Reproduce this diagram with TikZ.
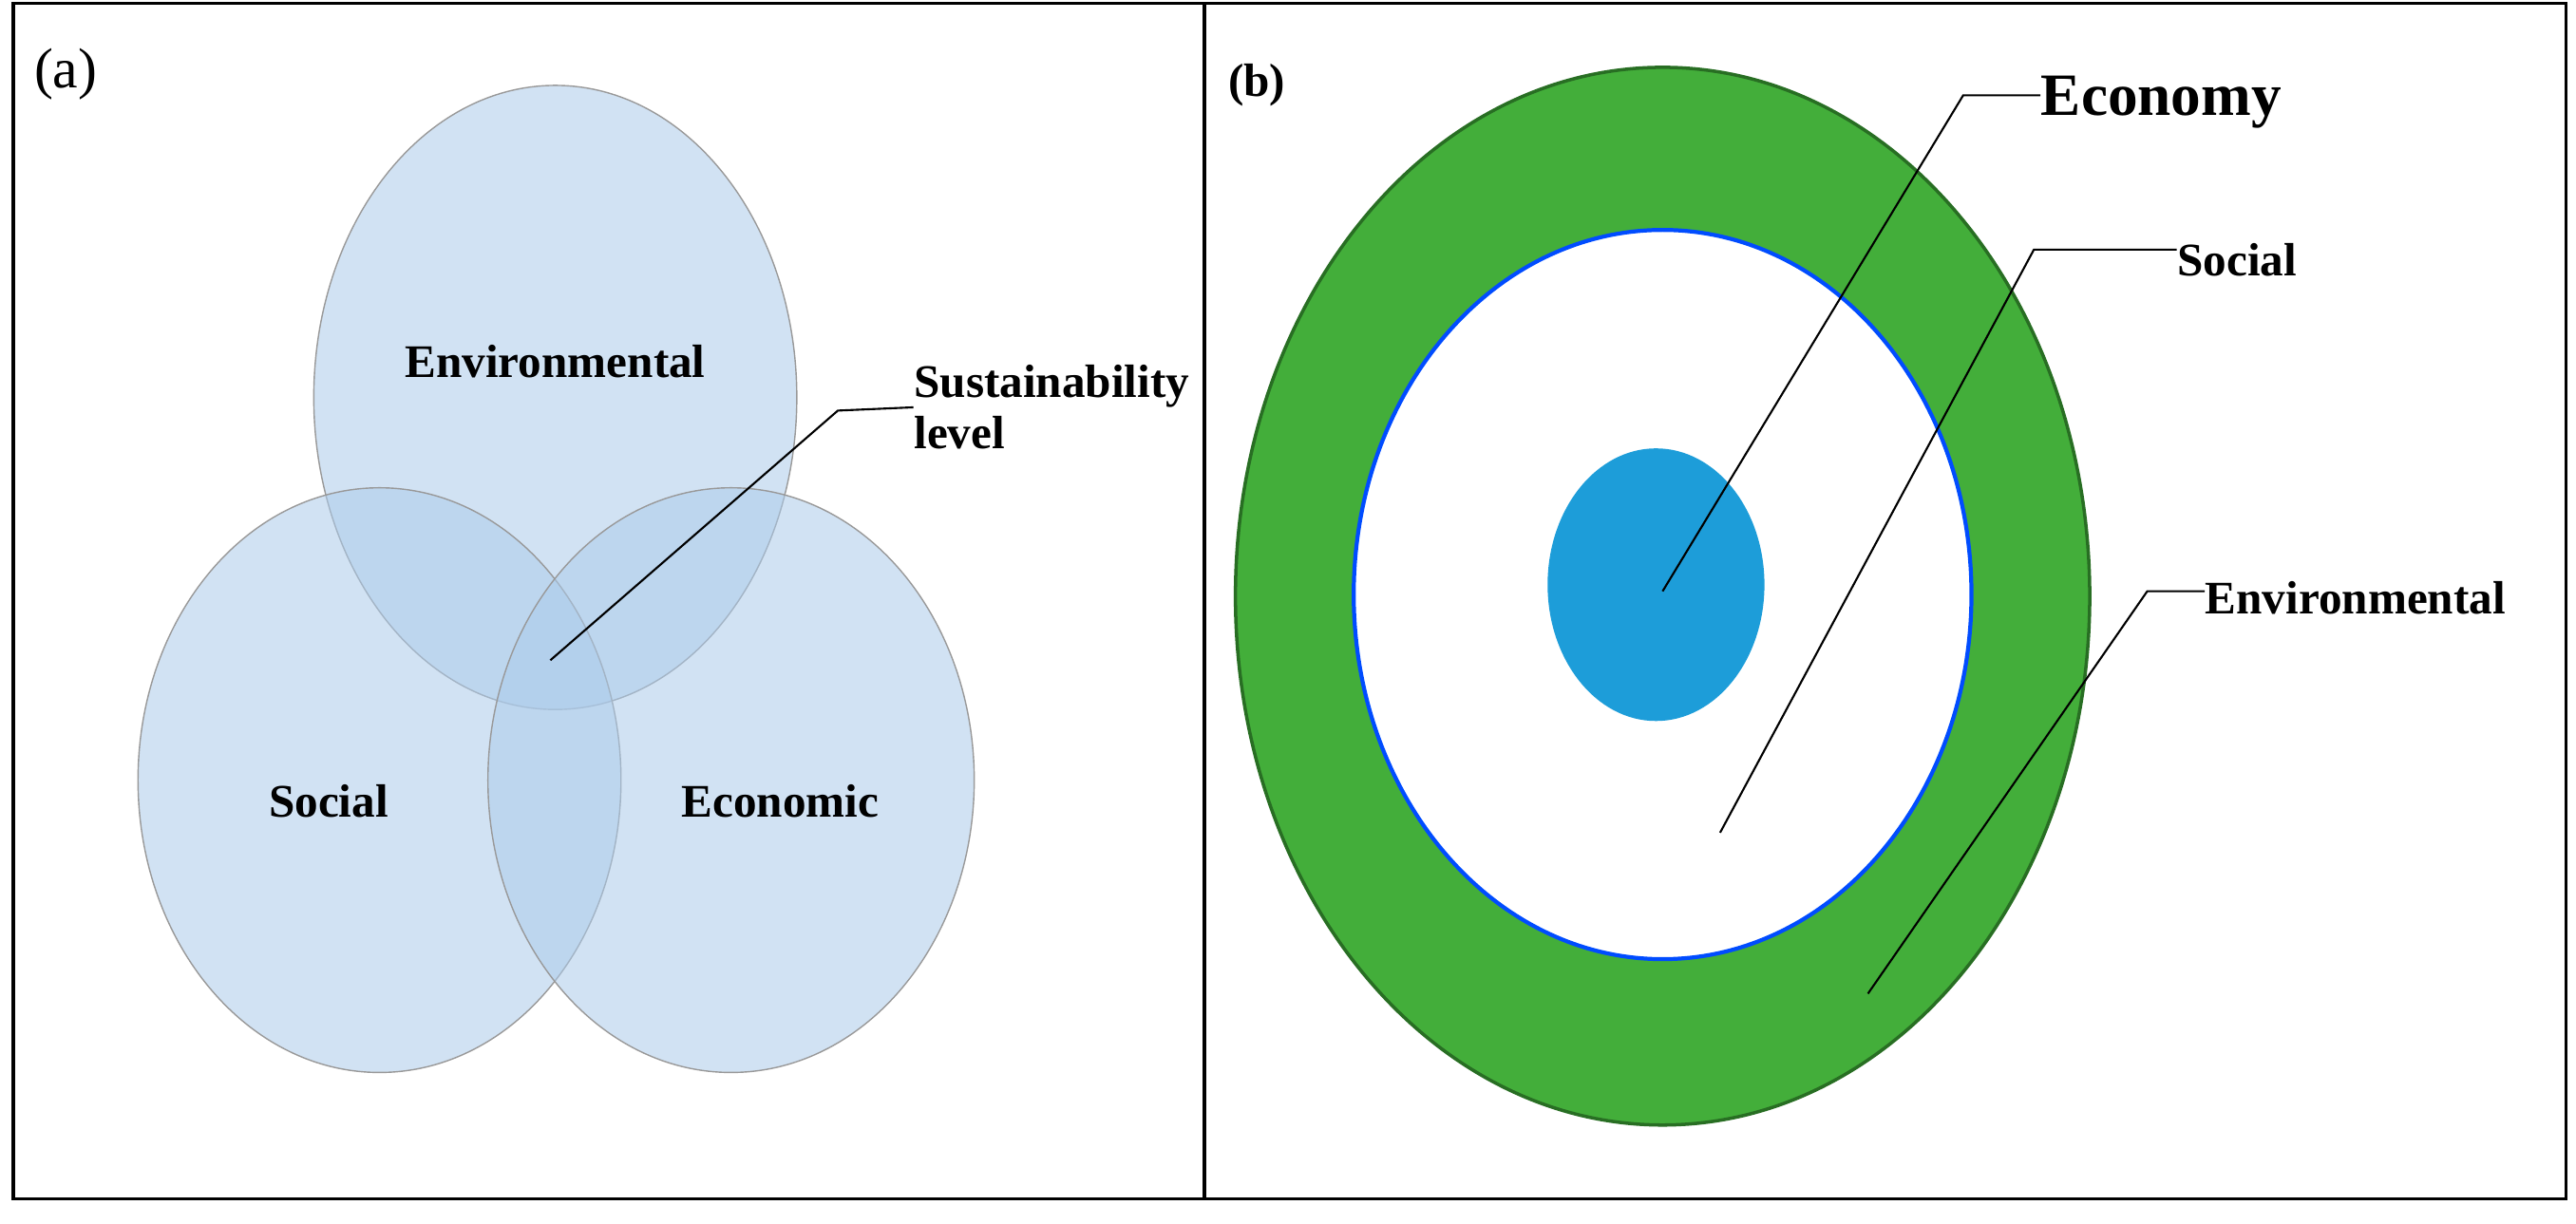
\documentclass[tikz,border=0pt]{standalone}
\usepackage{fontspec}
\setmainfont{Liberation Serif}
\definecolor{lb}{RGB}{172,203,234}
\definecolor{gr}{RGB}{67,174,58}
\definecolor{dgr}{RGB}{40,110,35}
\definecolor{bl}{RGB}{29,157,217}
\begin{document}
\begin{tikzpicture}[x=0.017296cm,y=-0.017296cm,
  venn/.style={fill=lb,fill opacity=0.55,draw=gray!80,line width=0.4pt},
  lab/.style={font=\bfseries\fontsize{14}{15.5}\selectfont,inner sep=0},
  lead/.style={draw=black,line width=0.6pt}]
\useasboundingbox (0,0) rectangle (1568,745);
\draw[line width=1pt] (8,2) rectangle (1562,730);
\draw[line width=1pt] (733,2) -- (733,730);
% panel a
\node[inner sep=0,font=\fontsize{17}{20}\selectfont] (ta) at (40,45) {(a)};
\draw[venn] (338,242) ellipse [x radius=147,y radius=190];
\draw[venn] (231,475) ellipse [x radius=147,y radius=178];
\draw[venn] (445,475) ellipse [x radius=148,y radius=178];
\node[lab] (env) at (338,220) {Environmental};
\node[lab] (soc) at (200,488) {Social};
\node[lab] (eco) at (475,488) {Economic};
\node[lab,anchor=west,align=left] (sus) at (556,248) {Sustainability\\level};
\coordinate (sa) at (335,402);
\coordinate (sb) at (510,250);
\draw[lead] (sa) -- (sb) -- (sus.west);
% panel b
\node[inner sep=0,font=\bfseries\fontsize{14}{16}\selectfont] (tb) at (765,52) {(b)};
\draw[fill=gr,draw=dgr,line width=1pt] (1012,363) ellipse [x radius=260,y radius=322];
\draw[fill=white,draw=blue!70!cyan,line width=1.2pt] (1012,362) ellipse [x radius=188,y radius=222];
\fill[bl] (1008,356) ellipse [x radius=66,y radius=83];
\node[inner sep=0,anchor=west,font=\bfseries\fontsize{18}{21}\selectfont] (econ) at (1242,62) {Economy};
\node[lab,anchor=west] (socb) at (1325,158) {Social};
\node[lab,anchor=west] (envb) at (1342,364) {Environmental};
\coordinate (e1) at (1012,360); \coordinate (e2) at (1195,58);
\coordinate (s1) at (1047,507); \coordinate (s2) at (1238,152);
\coordinate (v1) at (1137,605); \coordinate (v2) at (1307,360);
\draw[lead] (e1) -- (e2) -- (econ.west |- e2);
\draw[lead] (s1) -- (s2) -- (socb.west |- s2);
\draw[lead] (v1) -- (v2) -- (envb.west |- v2);
\end{tikzpicture}
\end{document}
